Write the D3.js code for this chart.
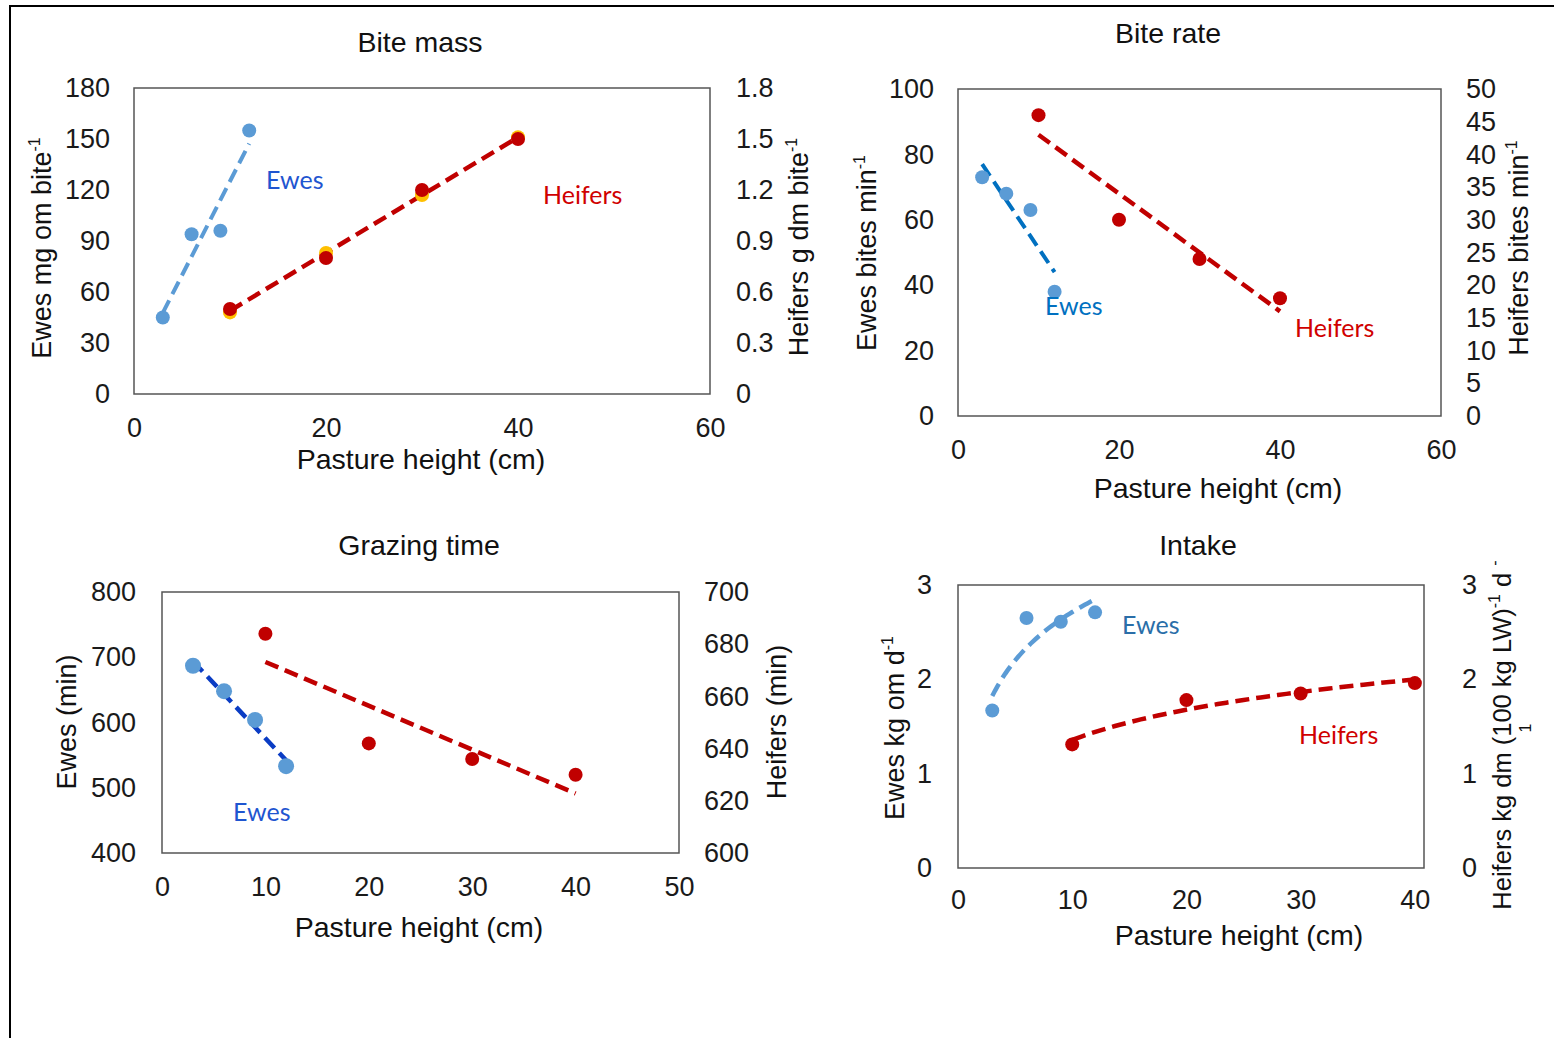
<!DOCTYPE html>
<html>
<head>
<meta charset="utf-8">
<script src="https://cdn.jsdelivr.net/npm/d3@7"></script>
<style>
  body { margin: 0; background: #fff; }
  .tick text { font-family: "Liberation Sans", Arial, sans-serif; font-size: 27px; fill: #1a1a1a; }
  .lbl { font-family: "Liberation Sans", Arial, sans-serif; font-size: 27px; fill: #111; }
  .big { font-size: 28.5px; }
  .series { font-family: Lato, "Open Sans", sans-serif; font-size: 25px; }
</style>
</head>
<body>
<script>
// pasture heights (cm)
var ewesHeight = [3, 6, 9, 12];
var heifersHeight = [10, 20, 30, 40];

// Bite mass
var biteMassEwes = [45, 94, 96, 155];            // mg om bite-1 (left)
var biteMassHeifers = [0.5, 0.8, 1.2, 1.5];       // g dm bite-1 (right)
var biteMassHeifersB = [0.48, 0.83, 1.17, 1.51];  // yellow markers under the red ones

// Bite rate
var biteRateEwes = [73, 68, 63, 38];     // bites min-1 (left)
var biteRateHeifers = [46, 30, 24, 18];  // bites min-1 (right)

// Grazing time
var grazingEwes = [687, 648, 604, 533];     // min (left)
var grazingHeifers = [684, 642, 636, 630];  // min (right)

// Intake
var intakeEwes = [1.67, 2.65, 2.61, 2.71];     // kg om d-1 (left)
var intakeHeifers = [1.31, 1.78, 1.85, 1.96];  // kg dm (100 kg LW)-1 d-1 (right)

// tick labels
var ticksMassL = [0, 30, 60, 90, 120, 150, 180];
var ticksMassR = [0, 0.3, 0.6, 0.9, 1.2, 1.5, 1.8];
var ticksRateL = [0, 20, 40, 60, 80, 100];
var ticksRateR = [0, 5, 10, 15, 20, 25, 30, 35, 40, 45, 50];
var ticksTimeL = [400, 500, 600, 700, 800];
var ticksTimeR = [600, 620, 640, 660, 680, 700];
var ticksIntake = [0, 1, 2, 3];
var ticksX60 = [0, 20, 40, 60];
var ticksX50 = [0, 10, 20, 30, 40, 50];
var ticksX40 = [0, 10, 20, 30, 40];

var BLUE = '#5B9BD5', RED = '#C00000', GOLD = '#FFC000';

var svg = d3.select('body').append('svg')
  .attr('width', 1554)
  .attr('height', 1038);

// outer frame (top and left edges visible)
svg.append('path')
  .attr('d', 'M10,1038 V6 H1554')
  .attr('fill', 'none')
  .attr('stroke', '#000')
  .attr('stroke-width', 2);

// least squares fits for the trend lines
function fitLinear(xs, ys) {
  var mx = d3.mean(xs), my = d3.mean(ys);
  var b = d3.sum(xs, function(x, i){ return (x - mx) * (ys[i] - my); }) / d3.sum(xs, function(x){ return (x - mx) * (x - mx); });
  return function(x){ return my + b * (x - mx); };
}
function fitLog(xs, ys) {
  var lx = xs.map(Math.log);
  var f = fitLinear(lx, ys);
  return function(x){ return f(Math.log(x)); };
}

function fmt1(d) { return d === 0 ? '0' : d.toFixed(1); }

function drawPanel(p) {
  var g = svg.append('g');
  var x = d3.scaleLinear().domain(p.xDomain).range([p.box[0], p.box[2]]);
  var yL = d3.scaleLinear().domain(p.yLDomain).range([p.box[3], p.box[1]]);
  var yR = d3.scaleLinear().domain(p.yRDomain).range([p.box[3], p.box[1]]);

  g.append('rect')
    .attr('x', p.box[0]).attr('y', p.box[1])
    .attr('width', p.box[2] - p.box[0]).attr('height', p.box[3] - p.box[1])
    .attr('fill', 'none').attr('stroke', '#555').attr('stroke-width', 1.5);

  g.append('g').attr('transform', 'translate(' + p.box[0] + ',0)')
    .call(d3.axisLeft(yL).tickValues(p.ticksL).tickSize(0).tickPadding(p.padL).tickFormat(p.fmtL || d3.format('d')))
    .call(function(a){ a.select('.domain').remove(); });
  g.append('g').attr('transform', 'translate(' + p.box[2] + ',0)')
    .call(d3.axisRight(yR).tickValues(p.ticksR).tickSize(0).tickPadding(p.padR).tickFormat(p.fmtR || d3.format('d')))
    .call(function(a){ a.select('.domain').remove(); });
  g.append('g').attr('transform', 'translate(0,' + p.box[3] + ')')
    .call(d3.axisBottom(x).tickValues(p.ticksX).tickSize(0).tickPadding(p.padX || 24).tickFormat(d3.format('d')))
    .call(function(a){ a.select('.domain').remove(); });
  g.selectAll('.tick text').attr('font-size', null).attr('font-family', null);

  // title and x label
  g.append('text').attr('class', 'lbl big').attr('text-anchor', 'middle')
    .attr('x', p.title[1]).attr('y', p.title[2]).text(p.title[0]);
  g.append('text').attr('class', 'lbl big').attr('text-anchor', 'middle')
    .attr('x', p.xLabel[0]).attr('y', p.xLabel[1]).text('Pasture height (cm)');

  // rotated y labels
  p.yLabels.forEach(function(l) {
    var t = g.append('text').attr('class', 'lbl').attr('text-anchor', 'middle')
      .attr('transform', 'translate(' + l.x + ',' + l.y + ') rotate(-90)');
    if (l.size) t.style('font-size', l.size + 'px');
    l.parts.forEach(function(part) {
      var ts = t.append('tspan').text(part[0]);
      if (part[1] === 'sup') ts.style('font-size', '16px').attr('dy', -11);
      if (part[1] === 'base') ts.attr('dy', 11);
    });
  });

  // trend lines
  p.series.forEach(function(s) {
    var y = s.axis === 'R' ? yR : yL;
    var f = s.trend === 'log' ? fitLog(s.xs, s.ys) : fitLinear(s.xs, s.ys);
    var x0 = s.xs[0], x1 = s.xs[s.xs.length - 1];
    var pts = s.trend === 'log' ? d3.range(0, 41).map(function(i){ return x0 + (x1 - x0) * i / 40; }) : [x0, x1];
    if (s.color) {
      g.append('path')
        .datum(pts)
        .attr('d', d3.line().x(function(v){ return x(v); }).y(function(v){ return y(f(v)); }))
        .attr('fill', 'none')
        .attr('stroke', s.color)
        .attr('stroke-width', s.width || 4.5)
        .attr('stroke-dasharray', '14,7');
    }
  });

  // markers
  p.series.forEach(function(s) {
    var y = s.axis === 'R' ? yR : yL;
    g.selectAll(null)
      .data(s.xs.map(function(v, i){ return [v, s.ys[i]]; }))
      .enter().append('circle')
      .attr('cx', function(d){ return x(d[0]); })
      .attr('cy', function(d){ return y(d[1]); })
      .attr('r', s.r || 7)
      .attr('fill', s.marker);
  });

  p.notes.forEach(function(n) {
    g.append('text').attr('class', 'series')
      .attr('x', n[1]).attr('y', n[2]).attr('fill', n[3]).text(n[0]);
  });
}

drawPanel({
  box: [134, 88, 710, 394], xDomain: [0, 60], yLDomain: [0, 180], yRDomain: [0, 1.8],
  ticksL: ticksMassL, ticksR: ticksMassR, ticksX: ticksX60, fmtR: fmt1, padL: 24, padR: 26,
  title: ['Bite mass', 420, 52], xLabel: [421, 469],
  yLabels: [
    {x: 51, y: 248, parts: [['Ewes mg om bite'], ['-1', 'sup']]},
    {x: 808, y: 247, parts: [['Heifers g dm bite'], ['-1', 'sup']]}
  ],
  series: [
    {xs: heifersHeight, ys: biteMassHeifersB, axis: 'R', marker: GOLD},
    {xs: ewesHeight, ys: biteMassEwes, axis: 'L', marker: BLUE, color: BLUE, width: 4},
    {xs: heifersHeight, ys: biteMassHeifers, axis: 'R', marker: RED, color: RED}
  ],
  notes: [['Ewes', 266, 189, '#1F55D0'], ['Heifers', 543, 204, '#D00000']]
});

drawPanel({
  box: [958, 89, 1441, 416], xDomain: [0, 60], yLDomain: [0, 100], yRDomain: [0, 50],
  ticksL: ticksRateL, ticksR: ticksRateR, ticksX: ticksX60, padL: 24, padR: 25,
  title: ['Bite rate', 1168, 43], xLabel: [1218, 498],
  yLabels: [
    {x: 876, y: 253, parts: [['Ewes bites min'], ['-1', 'sup']]},
    {x: 1528, y: 248, parts: [['Heifers bites min'], ['-1', 'sup']]}
  ],
  series: [
    {xs: ewesHeight, ys: biteRateEwes, axis: 'L', marker: BLUE, color: '#0070C0', width: 4},
    {xs: heifersHeight, ys: biteRateHeifers, axis: 'R', marker: RED, color: RED}
  ],
  notes: [['Ewes', 1045, 315, '#0070C0'], ['Heifers', 1295, 337, '#D00000']]
});

drawPanel({
  box: [162, 592, 679, 853], xDomain: [0, 50], yLDomain: [400, 800], yRDomain: [600, 700],
  ticksL: ticksTimeL, ticksR: ticksTimeR, ticksX: ticksX50, padL: 26, padR: 25,
  title: ['Grazing time', 419, 555], xLabel: [419, 937],
  yLabels: [
    {x: 76, y: 722, parts: [['Ewes (min)']]},
    {x: 786, y: 722, parts: [['Heifers (min)']]}
  ],
  series: [
    {xs: ewesHeight, ys: grazingEwes, axis: 'L', marker: BLUE, color: '#0A3CC4', width: 4.5, r: 8},
    {xs: heifersHeight, ys: grazingHeifers, axis: 'R', marker: RED, color: RED}
  ],
  notes: [['Ewes', 233, 821, '#1F55D0']]
});

drawPanel({
  box: [958, 585, 1424, 868], xDomain: [0, 40.8], yLDomain: [0, 3], yRDomain: [0, 3],
  ticksL: ticksIntake, ticksR: ticksIntake, ticksX: ticksX40, padL: 26, padR: 38, padX: 22,
  title: ['Intake', 1198, 555], xLabel: [1239, 945],
  yLabels: [
    {x: 904, y: 728, parts: [['Ewes kg om d'], ['-1', 'sup']]},
    {x: 1511, y: 735, size: 25.5, parts: [['Heifers kg dm (100 kg LW)'], ['-1', 'sup'], [' d ', 'base'], ['-', 'sup']]}
  ],
  series: [
    {xs: ewesHeight, ys: intakeEwes, axis: 'L', marker: BLUE, color: BLUE, width: 4.5, trend: 'log'},
    {xs: heifersHeight, ys: intakeHeifers, axis: 'R', marker: RED, color: RED, trend: 'log'}
  ],
  notes: [['Ewes', 1122, 634, '#2A6EA8'], ['Heifers', 1299, 744, '#D00000']]
});

// wrapped tail of the intake right-hand label
svg.append('text').attr('class', 'lbl')
  .style('font-size', '16px')
  .attr('text-anchor', 'middle')
  .attr('transform', 'translate(1531,728) rotate(-90)')
  .text('1');
</script>
</body>
</html>
